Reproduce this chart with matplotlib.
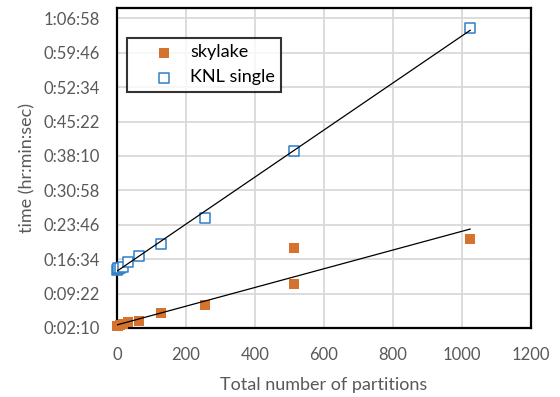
import numpy as np
import matplotlib.pyplot as plt
from matplotlib.ticker import FuncFormatter, MultipleLocator

# partitions vs run time (seconds)
parts_sky = [1, 2, 4, 8, 16, 32, 64, 128, 256, 512, 512, 1024]
time_sky = [150, 155, 160, 165, 175, 200, 218, 318, 419, 683, 1135, 1248]

parts_knl = [1, 2, 4, 8, 16, 32, 64, 128, 256, 512, 1024]
time_knl = [860, 870, 880, 880, 900, 959, 1034, 1185, 1511, 2353, 3897]

c_sky = '#D4722E'
c_knl = '#2F7FC7'

plt.rcParams['font.family'] = ['Lato', 'DejaVu Sans']

fig = plt.figure(figsize=(5.6, 3.97), dpi=100)
ax = fig.add_axes([0.209, 0.174, 0.739, 0.806])

ax.scatter(parts_sky, time_sky, marker='s', s=62, color=c_sky,
           label='skylake', zorder=3, clip_on=False, linewidths=0)
ax.scatter(parts_knl, time_knl, marker='s', s=62, facecolor='white',
           edgecolor=c_knl, linewidths=1.1, label='KNL single', zorder=3,
           clip_on=False)

# linear trendlines
for xs, ys in [(parts_sky, time_sky), (parts_knl, time_knl)]:
    k, b = np.polyfit(xs, ys, 1)
    xx = np.array([min(xs), max(xs)])
    ax.plot(xx, k * xx + b, color='black', lw=0.9, zorder=4)


def hms(v, pos):
    v = int(round(v))
    return '%d:%02d:%02d' % (v // 3600, (v % 3600) // 60, v % 60)


ax.set_xlim(0, 1200)
ax.set_ylim(130, 4150)
ax.xaxis.set_major_locator(MultipleLocator(200))
ax.set_yticks(np.arange(130, 4019, 432))
ax.yaxis.set_major_formatter(FuncFormatter(hms))

ax.grid(True, color='#D9D9D9', lw=1.3, zorder=0)
ax.set_axisbelow(True)
for s in ax.spines.values():
    s.set_color('black')
    s.set_linewidth(1.6)
ax.tick_params(length=0, labelsize=12, colors='#595959')
ax.tick_params(axis='x', pad=14)
ax.tick_params(axis='y', pad=12)

ax.set_xlabel('Total number of partitions', fontsize=13, color='#595959',
              labelpad=10)
ax.set_ylabel('time (hr:min:sec)', fontsize=13, color='#595959',
              labelpad=6)

leg = ax.legend(loc='upper left', bbox_to_anchor=(0.024, 0.906),
                fontsize=13, frameon=True, fancybox=False,
                edgecolor='black', borderpad=0.35, handletextpad=-0.26,
                borderaxespad=0, labelspacing=0.5, scatterpoints=1,
                handlelength=3.4)
leg.get_frame().set_linewidth(1.5)

fig.savefig('out.png', dpi=100)
